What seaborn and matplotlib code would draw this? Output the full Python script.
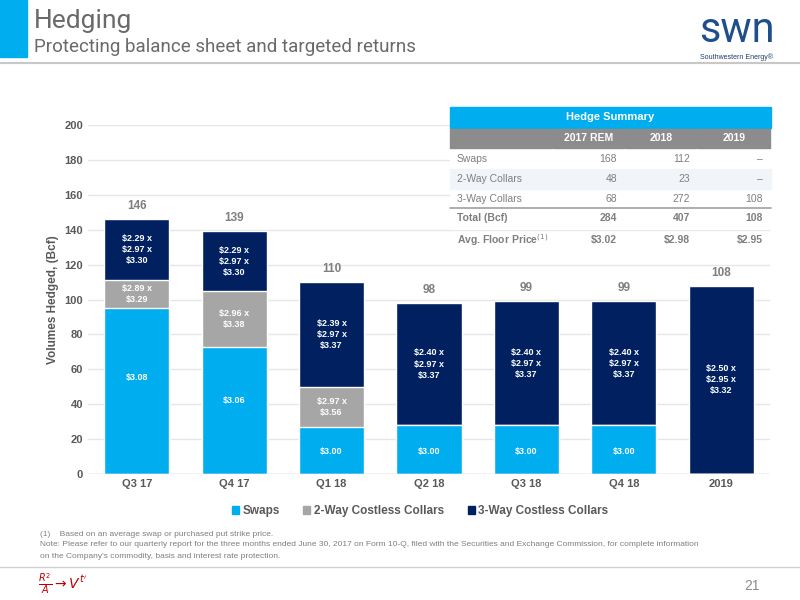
import matplotlib
matplotlib.use("Agg")
import matplotlib.pyplot as plt
import matplotlib.patches as mpatches
import seaborn as sns
import pandas as pd
import numpy as np

quarters = ["Q3 17", "Q4 17", "Q1 18", "Q2 18", "Q3 18", "Q4 18", "2019"]
swaps = [95, 73, 27, 28, 28, 28, 0]
two_way = [16, 32, 23, 0, 0, 0, 0]
three_way = [35, 34, 60, 70, 71, 71, 108]
totals = [146, 139, 110, 98, 99, 99, 108]
swap_labels = ["$3.08", "$3.06", "$3.00", "$3.00", "$3.00", "$3.00", ""]
two_way_labels = ["$2.89 x\n$3.29", "$2.96 x\n$3.38", "$2.97 x\n$3.56", "", "", "", ""]
three_way_labels = ["$2.29 x\n$2.97 x\n$3.30", "$2.29 x\n$2.97 x\n$3.30", "$2.39 x\n$2.97 x\n$3.37",
                    "$2.40 x\n$2.97 x\n$3.37", "$2.40 x\n$2.97 x\n$3.37", "$2.40 x\n$2.97 x\n$3.37",
                    "$2.50 x\n$2.95 x\n$3.32"]

table_cols = ["2017 REM", "2018", "2019"]
table_rows = ["Swaps", "2-Way Collars", "3-Way Collars"]
table_vals = [["168", "112", "–"], ["48", "23", "–"], ["68", "272", "108"]]
table_total = ["284", "407", "108"]
table_floor = ["$3.02", "$2.98", "$2.95"]

C_SWAP = "#00AEEF"
C_TWO = "#A6A6A6"
C_THREE = "#002060"
GRAY_TXT = "#7F7F7F"

sns.set_theme(style="white")
plt.rcParams["font.family"] = ["Liberation Sans", "DejaVu Sans"]

fig = plt.figure(figsize=(8, 6), dpi=100)
W, H = 800, 600

def fx(px):
    return px / W

def fy(py):
    return 1 - py / H

# header
fig.patches.append(mpatches.Rectangle((0, fy(57)), fx(27), 57 / H, transform=fig.transFigure,
                                      color=C_SWAP, zorder=0))
fig.add_artist(plt.Line2D([0, 1], [fy(63), fy(63)], color="#C8C8C8", lw=1.5))
fig.text(fx(34), fy(21), "Hedging", fontsize=19, color="#6A6A6A", va="center", family="Roboto")
fig.text(fx(34), fy(47), "Protecting balance sheet and targeted returns", fontsize=13.5,
         color="#6A6A6A", va="center", family="Roboto")
fig.text(fx(737), fy(31), "swn", fontsize=30, color="#1F4E8C", ha="center", va="center",
         family="Roboto")
fig.text(fx(737), fy(57), "Southwestern Energy\u00ae", fontsize=5, color="#1F3D6E", ha="center", va="center")

# chart
ax = fig.add_axes([fx(88), fy(474), fx(770 - 88), (474 - 125) / H])
df = pd.DataFrame({"q": quarters, "s": swaps, "t": two_way, "h": three_way})
df["c2"] = df["s"] + df["t"]
df["c3"] = df["c2"] + df["h"]
sns.barplot(data=df, x="q", y="c3", color=C_THREE, width=0.67, saturation=1, ax=ax, zorder=2)
sns.barplot(data=df, x="q", y="c2", color=C_TWO, width=0.67, saturation=1, ax=ax, zorder=3)
sns.barplot(data=df, x="q", y="s", color=C_SWAP, width=0.67, saturation=1, ax=ax, zorder=4)
ax.set_ylim(0, 200)
ax.set_yticks(range(0, 201, 20))
ax.yaxis.grid(True, color="#E6E6E6", lw=1)
ax.set_axisbelow(True)
for s in ax.spines.values():
    s.set_visible(False)
ax.axhline(0, color="#D9D9D9", lw=1, zorder=5)
ax.set_xlabel("")
ax.set_ylabel("Volumes Hedged, (Bcf)", fontsize=8.5, color="#595959", fontweight="bold")
ax.tick_params(axis="both", labelsize=8, colors="#595959", length=0)
for lab in ax.get_xticklabels() + ax.get_yticklabels():
    lab.set_fontweight("bold")

for i in range(len(quarters)):
    if swap_labels[i]:
        y = swaps[i] * 0.58 if swaps[i] > 40 else 13
        ax.text(i, y, swap_labels[i], ha="center", va="center", color="white", fontsize=6.5,
                fontweight="bold", zorder=6)
    if two_way_labels[i]:
        ax.text(i, swaps[i] + two_way[i] / 2, two_way_labels[i], ha="center", va="center",
                color="white", fontsize=6.5, fontweight="bold", zorder=6, linespacing=1.3)
    base = swaps[i] + two_way[i]
    ax.text(i, base + three_way[i] / 2, three_way_labels[i], ha="center", va="center",
            color="white", fontsize=6.5, fontweight="bold", zorder=6, linespacing=1.3)
    ax.text(i, totals[i] + 4, str(totals[i]), ha="center", va="bottom", color=GRAY_TXT,
            fontsize=8.5, fontweight="bold")

handles = [mpatches.Patch(color=c, label=l) for c, l in
           [(C_SWAP, "Swaps"), (C_TWO, "2-Way Costless Collars"), (C_THREE, "3-Way Costless Collars")]]
fig.legend(handles=handles, loc="center", bbox_to_anchor=(fx(420), fy(511)), ncol=3, frameon=False,
           handlelength=0.6, handleheight=0.6, handletextpad=0.3, columnspacing=2,
           prop={"size": 8.5, "weight": "bold"}, labelcolor="#595959")

# table
tx = [450, 553, 625, 697, 771]
fig.patches.append(mpatches.Rectangle((fx(450), fy(128)), fx(321), 21 / H, transform=fig.transFigure,
                                      color=C_SWAP, zorder=10))
fig.text(fx(610), fy(117), "Hedge Summary", ha="center", va="center", color="white", fontsize=8,
         fontweight="bold", zorder=11)
for j in range(4):
    fig.patches.append(mpatches.Rectangle((fx(tx[j]), fy(148)), fx(tx[j + 1] - tx[j] - 1.5), 19 / H,
                                          transform=fig.transFigure, color="#8C8C8C", zorder=10))
for j, c in enumerate(table_cols):
    fig.text(fx((tx[j + 1] + tx[j + 2]) / 2), fy(138), c, ha="center", va="center", color="white",
             fontsize=7.5, fontweight="bold", zorder=11)
fig.patches.append(mpatches.Rectangle((fx(450), fy(229)), fx(321), 81 / H, transform=fig.transFigure,
                                      color="white", zorder=9))
fig.patches.append(mpatches.Rectangle((fx(450), fy(189)), fx(321), 20 / H, transform=fig.transFigure,
                                      color="#F1F5FA", zorder=10))
row_y = [159, 179, 199]
num_x = [617, 690, 763]
for r, name in enumerate(table_rows):
    fig.text(fx(457), fy(row_y[r]), name, va="center", color=GRAY_TXT, fontsize=7.5, zorder=11)
    for j in range(3):
        fig.text(fx(num_x[j]), fy(row_y[r]), table_vals[r][j], ha="right", va="center", color=GRAY_TXT,
                 fontsize=7.5, zorder=11)
fig.add_artist(plt.Line2D([fx(450), fx(771)], [fy(208), fy(208)], color="#A0A0A0", lw=1.2, zorder=11))
fig.text(fx(457), fy(218), "Total (Bcf)", va="center", color=GRAY_TXT, fontsize=7.5, fontweight="bold",
         zorder=11)
fig.text(fx(457), fy(240), "Avg. Floor Price$^{(1)}$", va="center", color=GRAY_TXT, fontsize=7.5,
         fontweight="bold", zorder=11)
for j in range(3):
    fig.text(fx(num_x[j]), fy(218), table_total[j], ha="right", va="center", color=GRAY_TXT,
             fontsize=7.5, fontweight="bold", zorder=11)
    fig.text(fx(num_x[j]), fy(240), table_floor[j], ha="right", va="center", color=GRAY_TXT,
             fontsize=7.5, fontweight="bold", zorder=11)

# footnotes
fig.text(fx(40), fy(534), "(1)    Based on an average swap or purchased put strike price.", fontsize=6,
         color=GRAY_TXT, va="center")
fig.text(fx(40), fy(545), "Note: Please refer to our quarterly report for the three months ended June 30, 2017 on Form 10-Q, "
         "filed with the Securities and Exchange Commission, for complete information", fontsize=6,
         color=GRAY_TXT, va="center")
fig.text(fx(40), fy(556), "on the Company's commodity, basis and interest rate protection.", fontsize=6,
         color=GRAY_TXT, va="center")
fig.add_artist(plt.Line2D([0, 1], [fy(567), fy(567)], color="#D0D0D0", lw=1))
fig.text(fx(760), fy(586), "21", fontsize=10, color="#8C8C8C", ha="right", va="center")
fig.text(fx(38), fy(584), "$\\frac{R^2}{A}\\rightarrow V^{t'}$", fontsize=10, color="#C00000", va="center")

fig.savefig("out.png", dpi=100)
